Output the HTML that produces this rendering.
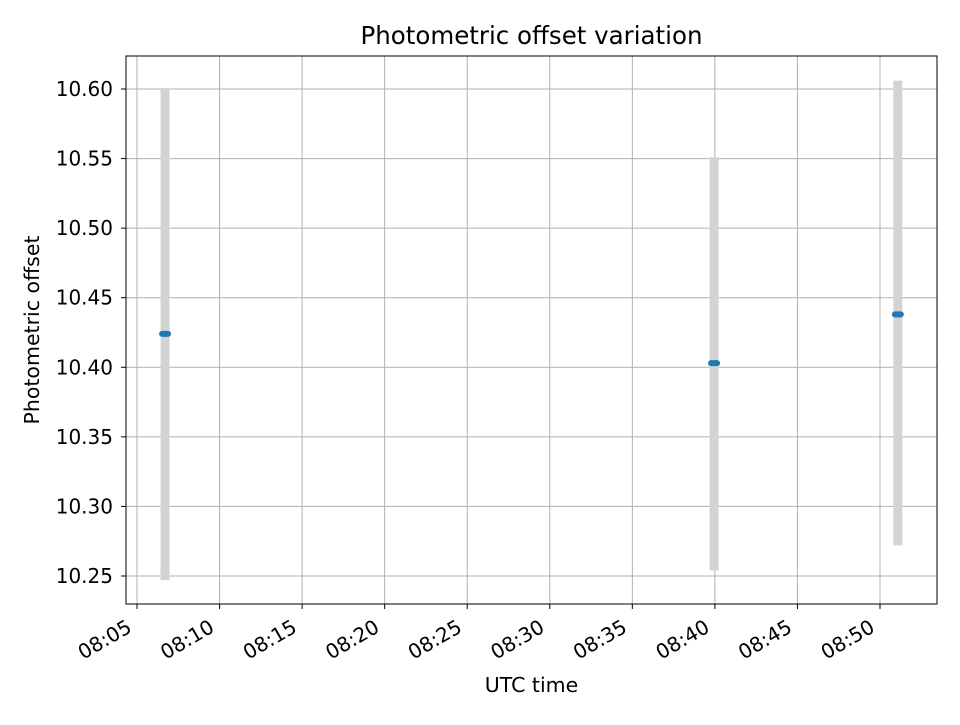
<!DOCTYPE html>
<html><head><meta charset="utf-8"><style>
body{margin:0;background:#fff;font-family:"Liberation Sans","DejaVu Sans",sans-serif;}
</style></head><body>
<svg id="chart" width="960" height="720" xmlns="http://www.w3.org/2000/svg" font-family="DejaVu Sans, Liberation Sans, sans-serif">
<rect width="960" height="720" fill="#fff"/>
<g id="grid"></g>
<g id="marks"></g>
<rect x="126" y="56" width="811" height="548" fill="none" stroke="#000" stroke-width="1"/>
<g id="axes"></g>
<text x="531.5" y="44" text-anchor="middle" font-size="24.5">Photometric offset variation</text>
<text x="531.5" y="692" text-anchor="middle" font-size="20.5">UTC time</text>
<text x="39" y="330" text-anchor="middle" font-size="20.5" transform="rotate(-90 39 330)">Photometric offset</text>
</svg>
<script>
// minutes after 08:00
const times=[6.7,39.95,51.08];
const values=[10.424,10.403,10.438];
const errLow=[10.247,10.254,10.272];
const errHigh=[10.600,10.551,10.606];
const xTicks=[5,10,15,20,25,30,35,40,45,50];
const xTickLabels=["08:05","08:10","08:15","08:20","08:25","08:30","08:35","08:40","08:45","08:50"];
const yTicks=[10.25,10.30,10.35,10.40,10.45,10.50,10.55,10.60];
const yTickLabels=["10.25","10.30","10.35","10.40","10.45","10.50","10.55","10.60"];

const NS="http://www.w3.org/2000/svg";
const X=m=>137+(m-5)*(743/45);
const Y=v=>89+(10.60-v)*(487/0.35);
function mk(tag,attrs,parent){const e=document.createElementNS(NS,tag);for(const k in attrs)e.setAttribute(k,attrs[k]);parent.appendChild(e);return e;}
const grid=document.getElementById('grid'),axes=document.getElementById('axes'),marks=document.getElementById('marks');
xTicks.forEach((t,i)=>{const x=X(t);
 const g=mk('line',{x1:x,x2:x,y1:56,y2:604,stroke:'#b0b0b0','stroke-width':1},grid);
 
 const tk=mk('line',{x1:x,x2:x,y1:604,y2:609,stroke:'#000'},axes);
 
 const ax=x-4, ay=631;
 const tx=mk('text',{x:ax,y:ay,'text-anchor':'end','font-size':20,transform:`rotate(-30 ${ax} ${ay})`},axes);
 tx.textContent=xTickLabels[i];
 
});
yTicks.forEach((t,i)=>{const y=Y(t);
 const g=mk('line',{x1:126,x2:937,y1:y,y2:y,stroke:'#b0b0b0','stroke-width':1},grid);
 
 const tk=mk('line',{x1:121,x2:126,y1:y,y2:y,stroke:'#000'},axes);
 
 const tx=mk('text',{x:113,y:y+7,'text-anchor':'end','font-size':20},axes);
 tx.textContent=yTickLabels[i];
 
});
times.forEach((t,i)=>{const x=X(t);
 const eb=mk('rect',{x:x-4.5,y:Y(errHigh[i]),width:9,height:Y(errLow[i])-Y(errHigh[i]),fill:'#d3d3d3'},marks);
 
 const p=mk('rect',{x:x-6,y:Y(values[i])-3,width:12,height:6,rx:3,fill:'#1f77b4'},marks);
 
});
</script>
</body></html>
